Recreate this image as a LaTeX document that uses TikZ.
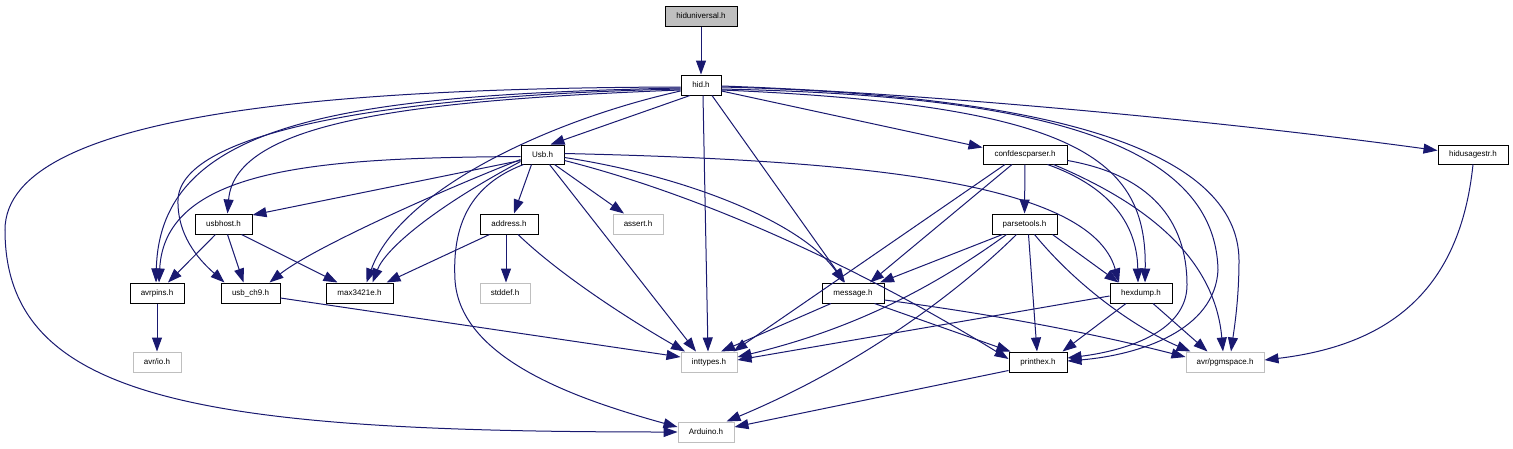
\documentclass[tikz,border=0pt]{standalone}
\usepackage{fontspec}
\setmainfont{Liberation Sans}
\usetikzlibrary{arrows.meta,calc}
\definecolor{edgec}{RGB}{25,25,112}
\definecolor{grayb}{RGB}{191,191,191}
\begin{document}
\begin{tikzpicture}[x=1pt,y=-1pt,
  box/.style={draw=black,line width=1pt,minimum height=20pt,inner sep=0pt,font=\fontsize{8}{9}\selectfont,text=black},
  ext/.style={box,draw=grayb},
  root/.style={box,fill=grayb},
  dep/.style={draw=edgec,line width=1pt,-{Triangle[length=14pt,width=10pt,fill=edgec]}}]
\fill[white] (0,0) rectangle (1513,448);
\useasboundingbox (0,0) rectangle (1513,448);

% nodes
\node[root,minimum width=72pt] (hiduniversal) at (701,16) {hiduniversal.h};
\node[box,minimum width=40pt] (hid) at (701,85) {hid.h};
\node[box,minimum width=43pt,minimum height=19pt] (usb) at (542.5,154.5) {Usb.h};
\node[box,minimum width=84pt,minimum height=19pt] (confdesc) at (1025,154.5) {confdescparser.h};
\node[box,minimum width=70pt,minimum height=19pt] (hidusage) at (1473,154.5) {hidusagestr.h};
\node[box,minimum width=57pt] (usbhost) at (223.5,224) {usbhost.h};
\node[box,minimum width=58pt] (address) at (509,224) {address.h};
\node[ext,minimum width=50pt] (assert) at (638,224) {assert.h};
\node[box,minimum width=65pt] (parsetools) at (1024.5,224) {parsetools.h};
\node[box,minimum width=54pt] (avrpins) at (157,293) {avrpins.h};
\node[box,minimum width=59pt] (usbch9) at (250.5,293) {usb\_ch9.h};
\node[box,minimum width=67pt] (max) at (359.5,293) {max3421e.h};
\node[ext,minimum width=50pt] (stddef) at (505,293) {stddef.h};
\node[box,minimum width=62pt] (message) at (853,293) {message.h};
\node[box,minimum width=62pt] (hexdump) at (1141,293) {hexdump.h};
\node[ext,minimum width=48pt] (avrio) at (157,362) {avr/io.h};
\node[ext,minimum width=56pt] (inttypes) at (709,362) {inttypes.h};
\node[box,minimum width=58pt] (printhex) at (1038,362) {printhex.h};
\node[ext,minimum width=78pt] (pgmspace) at (1225,362) {avr/pgmspace.h};
\node[ext,minimum width=56pt] (arduino) at (706,432) {Arduino.h};

% hiduniversal
\draw[dep] (hiduniversal.south) -- (hid.north);

% hid.h
\draw[dep] ($(hid.south)+(-11,0)$) -- ($(usb.north)+(8,0)$);
\draw[dep] ($(hid.south)+(2,0)$) -- ($(inttypes.north)+(-1,0)$);
\draw[dep] ($(hid.south)+(11,0)$) -- ($(message.north)+(-8,0)$);
\draw[dep] ($(hid.east)+(0,6)$) -- ($(confdesc.north west)+(0,3)$);
\draw[dep] ($(hid.east)+(0,1)$) .. controls (900,92) and (1200,118) .. ($(hidusage.west)+(0,-4)$);
\draw[dep] ($(hid.west)+(0,6)$) .. controls (550,120) and (400,190) .. ($(max.north)+(7,0)$);
\draw[dep] ($(hid.west)+(0,2)$) .. controls (350,88) and (5,110) .. (5,230)
   .. controls (5,400) and (200,432) .. (arduino.west);
\draw[dep] ($(hid.west)+(0,3)$) .. controls (350,95) and (160,120) .. ($(avrpins.north)+(-1,0)$);
\draw[dep] ($(hid.west)+(0,4)$) .. controls (400,95) and (180,130) .. (178,200)
   .. controls (177,240) and (205,265) .. ($(usbch9.north)+(-26,0)$);
\draw[dep] ($(hid.west)+(0,5)$) .. controls (420,100) and (235,120) .. ($(usbhost.north)+(4,0)$);
\draw[dep] ($(hid.east)+(0,5)$) .. controls (1080,105) and (1147,160) .. ($(hexdump.north)+(4,0)$);
\draw[dep] ($(hid.east)+(0,4)$) .. controls (1000,95) and (1215,130) .. (1218,270)
   .. controls (1215,330) and (1140,355) .. ($(printhex.east)+(0,-1)$);
\draw[dep] ($(hid.east)+(0,2)$) .. controls (1050,95) and (1238,150) .. (1239,260)
   .. controls (1239,300) and (1234,330) .. ($(pgmspace.north)+(6,0)$);

% Usb.h
\draw[dep] ($(usb.west)+(0,6)$) -- ($(usbhost.east)+(0,-9)$);
\draw[dep] ($(usb.west)+(0,2)$) .. controls (330,158) and (165,165) .. ($(avrpins.north)+(2,0)$);
\draw[dep] ($(usb.west)+(0,5)$) .. controls (430,195) and (310,250) .. ($(usbch9.north)+(19,0)$);
\draw[dep] ($(usb.west)+(0,7)$) .. controls (430,210) and (385,250) .. ($(max.north)+(13,0)$);
\draw[dep] ($(usb.south)+(-11,0)$) -- ($(address.north)+(5,0)$);
\draw[dep] ($(usb.south)+(12,0)$) -- ($(assert.north)+(-14,0)$);
\draw[dep] ($(usb.south west)+(3,0)$) .. controls (470,185) and (452,225) .. (455,280)
   .. controls (460,360) and (580,400) .. ($(arduino.west)+(0,-5)$);
\draw[dep] ($(usb.south)+(7,0)$) -- ($(inttypes.north)+(-13,0)$);
\draw[dep] ($(usb.east)+(0,3)$) .. controls (680,175) and (800,220) .. ($(message.north)+(-9,0)$);
\draw[dep] ($(usb.east)+(0,-1)$) .. controls (850,160) and (1090,180) .. ($(hexdump.north)+(-22,0)$);
\draw[dep] ($(usb.east)+(0,6)$) .. controls (720,200) and (880,280) .. ($(printhex.west)+(0,-3)$);

% confdescparser.h
\draw[dep] (confdesc) -- (parsetools);
\draw[dep] ($(confdesc.south)+(-13,0)$) -- ($(message.north)+(17,0)$);
\draw[dep] ($(confdesc.south)+(-20,0)$) -- ($(inttypes.north east)+(-4,0)$);
\draw[dep] ($(confdesc.south east)+(-20,0)$) .. controls (1105,185) and (1137,220) .. ($(hexdump.north)+(-3,0)$);
\draw[dep] ($(confdesc.south east)+(-14,0)$) .. controls (1150,205) and (1215,260) .. ($(pgmspace.north)+(-2,0)$);
\draw[dep] ($(confdesc.east)+(0,6)$) .. controls (1150,175) and (1187,220) .. (1187,285)
   .. controls (1187,330) and (1130,350) .. ($(printhex.east)+(0,-4)$);

% hidusagestr.h
\draw[dep] (hidusage.south) .. controls (1460,290) and (1390,345) .. ($(pgmspace.east)+(0,-2)$);

% usbhost.h
\draw[dep] ($(usbhost.south)+(-8,0)$) -- ($(avrpins.north)+(11,0)$);
\draw[dep] ($(usbhost.south)+(4,0)$) -- ($(usbch9.north)+(-7,0)$);
\draw[dep] ($(usbhost.south)+(18,0)$) -- ($(max.north)+(-22,0)$);

% address.h
\draw[dep] ($(address.south west)+(10,0)$) -- ($(max.north east)+(-7,0)$);
\draw[dep] ($(address.south)+(-3,0)$) -- ($(stddef.north)+(1,0)$);
\draw[dep] ($(address.south)+(9,0)$) .. controls (560,275) and (630,320) .. ($(inttypes.north)+(-24,0)$);

% parsetools.h
\draw[dep] ($(parsetools.south)+(-22,0)$) -- ($(message.north)+(27,0)$);
\draw[dep] ($(parsetools.south)+(-18,0)$) .. controls (930,290) and (850,330) .. ($(inttypes.east)+(0,-5)$);
\draw[dep] ($(parsetools.south)+(-8,0)$) .. controls (950,300) and (850,370) .. ($(arduino.north east)+(-8,0)$);
\draw[dep] ($(parsetools.south)+(4,0)$) -- ($(printhex.north)+(-1,0)$);
\draw[dep] ($(parsetools.south east)+(-5,0)$) -- ($(hexdump.north west)+(9,0)$);
\draw[dep] ($(parsetools.south)+(10,0)$) .. controls (1080,290) and (1140,330) .. ($(pgmspace.north west)+(5,0)$);

% avrpins, usb_ch9
\draw[dep] (avrpins) -- (avrio);
\draw[dep] ($(usbch9.east)+(0,5)$) -- ($(inttypes.west)+(0,-5)$);

% message.h
\draw[dep] ($(message.south)+(-22,0)$) -- ($(inttypes.north)+(12,0)$);
\draw[dep] ($(message.south east)+(-10,0)$) -- ($(printhex.north west)+(2,0)$);
\draw[dep] ($(message.east)+(0,7)$) .. controls (1000,315) and (1100,335) .. ($(pgmspace.west)+(0,-5)$);

% hexdump.h
\draw[dep] ($(hexdump.west)+(0,3)$) -- ($(inttypes.east)+(0,-2)$);
\draw[dep] ($(hexdump.south)+(-15,0)$) -- ($(printhex.north east)+(-5,0)$);
\draw[dep] ($(hexdump.south)+(12,0)$) -- ($(pgmspace.north west)+(22,0)$);

% printhex.h
\draw[dep] ($(printhex.south west)+(0,-2)$) -- ($(arduino.east)+(0,-5)$);
\end{tikzpicture}
\end{document}
